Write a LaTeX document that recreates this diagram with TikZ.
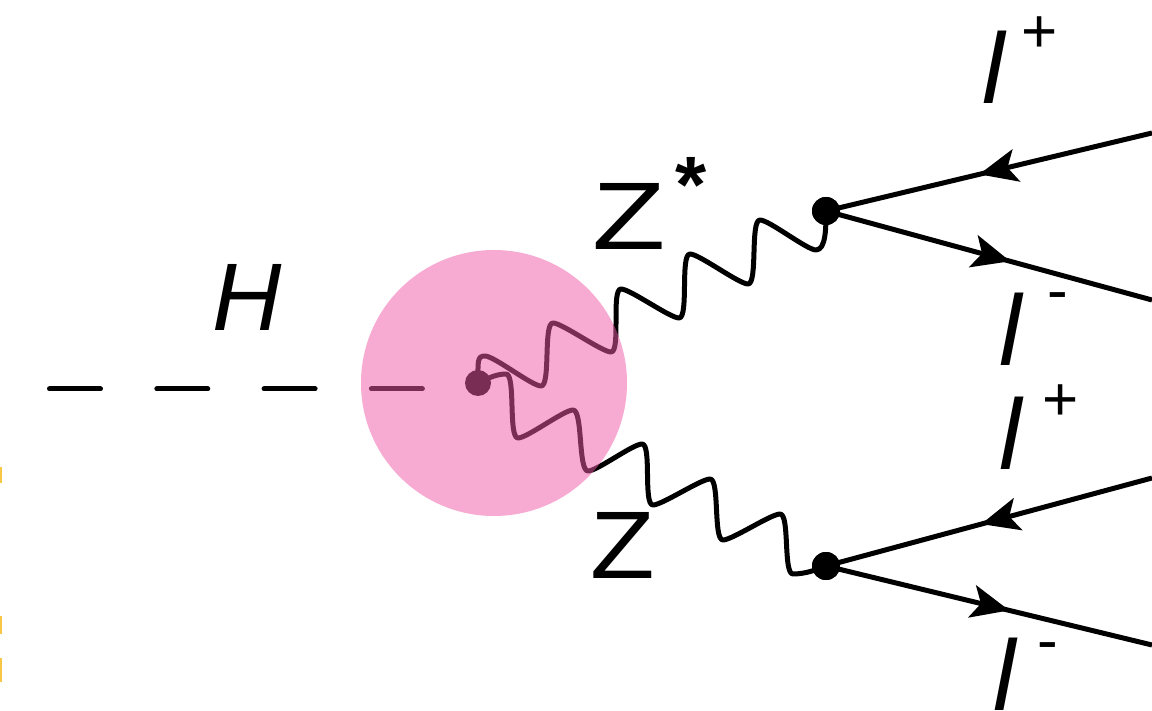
\documentclass[tikz,border=0pt]{standalone}
\usepackage{fontspec}
\setmainfont{Liberation Sans}
\usetikzlibrary{arrows.meta,decorations.markings}
\definecolor{blobpink}{RGB}{239,90,167}
\definecolor{tagyellow}{RGB}{247,200,70}
\begin{document}
\begin{tikzpicture}[x=1pt,y=-1pt,
  scalar/.style={line width=5pt, dash pattern=on 51pt off 56.3pt, line cap=round},
  boson/.style={line width=5pt, line join=round, line cap=round},
  fermion/.style={line width=5pt},
  vtx/.style={circle, fill=black, inner sep=0pt, minimum size=28pt},
  hvtx/.style={circle, fill=black, inner sep=0pt, minimum size=26pt},
  blob/.style={circle, fill=blobpink, fill opacity=0.51, inner sep=0pt, minimum size=266pt},
  arr at/.style={postaction={decorate}, decoration={markings, mark=at position #1 with {\arrow{Stealth[length=38pt,width=33pt,inset=9pt]}}}},
  biglbl/.style={inner sep=0pt, anchor=north, font=\fontsize{96}{96}\selectfont},
  leplbl/.style={inner sep=0pt, anchor=north, font=\fontsize{100}{100}\selectfont\itshape},
  chglbl/.style={inner sep=0pt, anchor=north, font=\fontsize{62}{62}\selectfont},
  starlbl/.style={inner sep=0pt, anchor=north, font=\fontsize{80}{80}\selectfont\bfseries}
]
\useasboundingbox (0,0) rectangle (1152,711);
\clip (0,0) rectangle (1152,711);

% cut-off fragments at the left edge
\fill[tagyellow] (0,467) rectangle (1.5,483);
\fill[tagyellow] (0,616) rectangle (1.5,634);
\fill[tagyellow] (0,658) rectangle (2,682);

% Higgs line
\coordinate (hstart) at (49.5,389);
\coordinate (hend) at (423.5,389);
\draw[scalar] (hstart) -- (hend);

% vertices
\node[hvtx] (hv) at (478,383) {};
\node[vtx] (vup) at (826,211) {};
\node[vtx] (vdn) at (826,566) {};

% Z* (upper) boson
\draw[boson] (hv.center) .. controls +(0,-22) and +(-8,0) .. (485,356)
  .. controls +(9,0) and +(-9,0) .. (541,386)
  .. controls +(10,0) and +(-10,0) .. (553,323)
  .. controls +(9,0) and +(-9,0) .. (611,352)
  .. controls +(10,0) and +(-10,0) .. (621,289)
  .. controls +(9,0) and +(-9,0) .. (679,318)
  .. controls +(10,0) and +(-10,0) .. (690,254)
  .. controls +(9,0) and +(-9,0) .. (748,284)
  .. controls +(10,0) and +(-10,0) .. (760,220)
  .. controls +(9,0) and +(-9,0) .. (816,250)
  .. controls +(10,0) and +(0,16) .. (vup.center);
% Z (lower) boson
\draw[boson] (hv.center) .. controls +(12,-6) and +(-8,0) .. (506,374)
  .. controls +(10,0) and +(-10,0) .. (518,438)
  .. controls +(9,0) and +(-9,0) .. (573,410)
  .. controls +(10,0) and +(-10,0) .. (588,471)
  .. controls +(9,0) and +(-9,0) .. (642,444)
  .. controls +(10,0) and +(-10,0) .. (653,505)
  .. controls +(9,0) and +(-9,0) .. (710,479)
  .. controls +(10,0) and +(-10,0) .. (723,540)
  .. controls +(9,0) and +(-9,0) .. (780,514)
  .. controls +(10,0) and +(-10,0) .. (793,574)
  .. controls +(12,0) and +(-10,4) .. (vdn.center);

% redraw vertex dots on top
\fill (vup) circle (14pt);
\fill (vdn) circle (14pt);

% pink blob
\node[blob] (blob) at (494,383) {};

% fermion lines
\coordinate (o1) at (1152,133);
\coordinate (o2) at (1152,300);
\coordinate (o3) at (1152,478);
\coordinate (o4) at (1152,645);
\draw[fermion, arr at=0.53] (o1) -- (vup.center);
\draw[fermion, arr at=0.565] (vup.center) -- (o2);
\draw[fermion, arr at=0.524] (o3) -- (vdn.center);
\draw[fermion, arr at=0.562] (vdn.center) -- (o4);

% labels
\node[biglbl, font=\fontsize{96}{96}\selectfont\itshape] (hlbl) at (247,264) {H};
\node[biglbl] (zslbl) at (629,183) {\scalebox{1.25}[1]{Z}};
\node[starlbl] (star) at (691,157) {*};
\node[biglbl] (zlbl) at (623,512) {\scalebox{1.1}[1]{Z}};

\node[leplbl] (l1) at (994,31) {l};
\node[chglbl] (c1) at (1040,17) {+};
\node[leplbl] (l2) at (1011,293) {l};
\node[chglbl] (c2) at (1058,292) {-};
\node[leplbl] (l3) at (1011,397) {l};
\node[chglbl] (c3) at (1061,385) {+};
\node[leplbl] (l4) at (1005,638) {l};
\node[chglbl] (c4) at (1048,642) {-};
\end{tikzpicture}
\end{document}
